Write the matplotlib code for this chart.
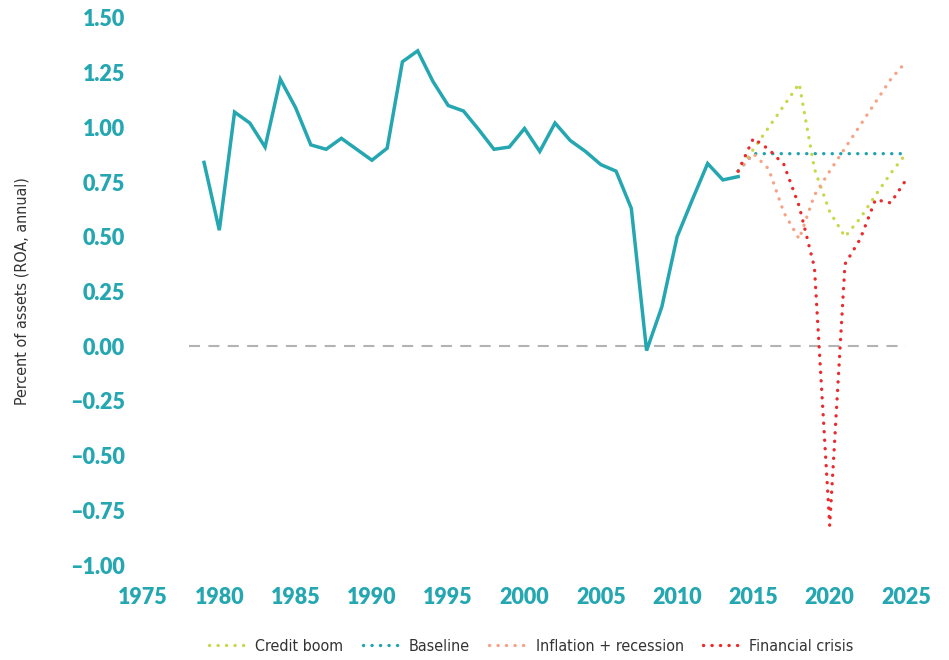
import numpy as np
import matplotlib.pyplot as plt
from matplotlib import font_manager as fm

# historical return on assets
hist_years = list(range(1979, 2015))
hist_roa = [0.84, 0.53, 1.07, 1.02, 0.91, 1.22, 1.09, 0.92, 0.90, 0.95,
            0.90, 0.85, 0.905, 1.30, 1.35, 1.21, 1.10, 1.075, 0.99, 0.90,
            0.91, 0.995, 0.89, 1.02, 0.94, 0.89, 0.83, 0.80, 0.63, -0.02,
            0.18, 0.50, 0.67, 0.835, 0.76, 0.775]

# scenarios
proj_years = list(range(2014, 2026))
credit_boom = [0.80, 0.90, 1.00, 1.10, 1.20, 0.81, 0.615, 0.50, 0.585, 0.69, 0.79, 0.88]
baseline = [0.80, 0.88, 0.88, 0.88, 0.88, 0.88, 0.88, 0.88, 0.88, 0.88, 0.88, 0.88]
inflation = [0.80, 0.88, 0.81, 0.61, 0.49, 0.69, 0.80, 0.905, 1.01, 1.115, 1.22, 1.30]
fin_crisis = [0.80, 0.95, 0.90, 0.83, 0.64, 0.36, -0.82, 0.375, 0.49, 0.67, 0.655, 0.76]

zero_years = [1978, 2025]

teal = '#25a7b2'

# look for a narrow font for the axis title and legend
narrow_file = None
for f in fm.fontManager.ttflist:
    n = f.name.lower()
    if ('narrow' in n or 'condensed' in n or f.stretch == 'condensed') \
            and f.weight in (400, 'normal', 'regular') and f.style == 'normal':
        narrow_file = f.fname
        break
if narrow_file:
    narrow = fm.FontProperties(fname=narrow_file, size=11.5)
else:
    narrow = fm.FontProperties(family='Roboto', size=11)

fig = plt.figure(figsize=(9.49, 6.6), dpi=100)
ax = fig.add_axes([143/949, 95/660, 763/949, 547/660])

ax.plot(zero_years, [0, 0], color='#b3b3b3', lw=1.5, dashes=(5.3, 4))
ax.plot(hist_years, hist_roa, color=teal, lw=2.5, solid_joinstyle='miter')

dots = dict(lw=2.4, dashes=(0.05, 2.5), dash_capstyle='round')
ax.plot(proj_years, credit_boom, color='#c9d74c', label='Credit boom', **dots)
ax.plot(proj_years, baseline, color='#1fa5b1', label='Baseline', **dots)
ax.plot(proj_years, inflation, color='#f5a384', label='Inflation + recession', **dots)
ax.plot(proj_years, fin_crisis, color='#ea2a2c', label='Financial crisis', **dots)

ax.set_xlim(1975, 2025)
ax.set_ylim(-1.0, 1.5)
ax.set_xticks(range(1975, 2026, 5))
ax.set_yticks(np.arange(-1.0, 1.51, 0.25))
ax.set_yticklabels([f'{v:.2f}'.replace('-', '\u2013') for v in np.arange(-1.0, 1.51, 0.25)])
for s in ax.spines.values():
    s.set_visible(False)
ax.tick_params(length=0, labelcolor=teal)
ax.tick_params(axis='y', pad=13)
ax.tick_params(axis='x', pad=16)
for lab in ax.get_xticklabels() + ax.get_yticklabels():
    lab.set_fontfamily(['Lato', 'DejaVu Sans'])
    lab.set_fontweight('heavy')
    lab.set_fontsize(15.5)

ax.set_ylabel('Percent of assets (ROA, annual)', fontproperties=narrow,
              color='#333333', labelpad=29)

leg = fig.legend(loc='center', bbox_to_anchor=(0.560, 0.021), ncol=4, frameon=False,
                 prop=narrow, labelcolor='#333333',
                 handlelength=2.4, handletextpad=0.5, columnspacing=1.2)

fig.savefig('out.png', dpi=100)
